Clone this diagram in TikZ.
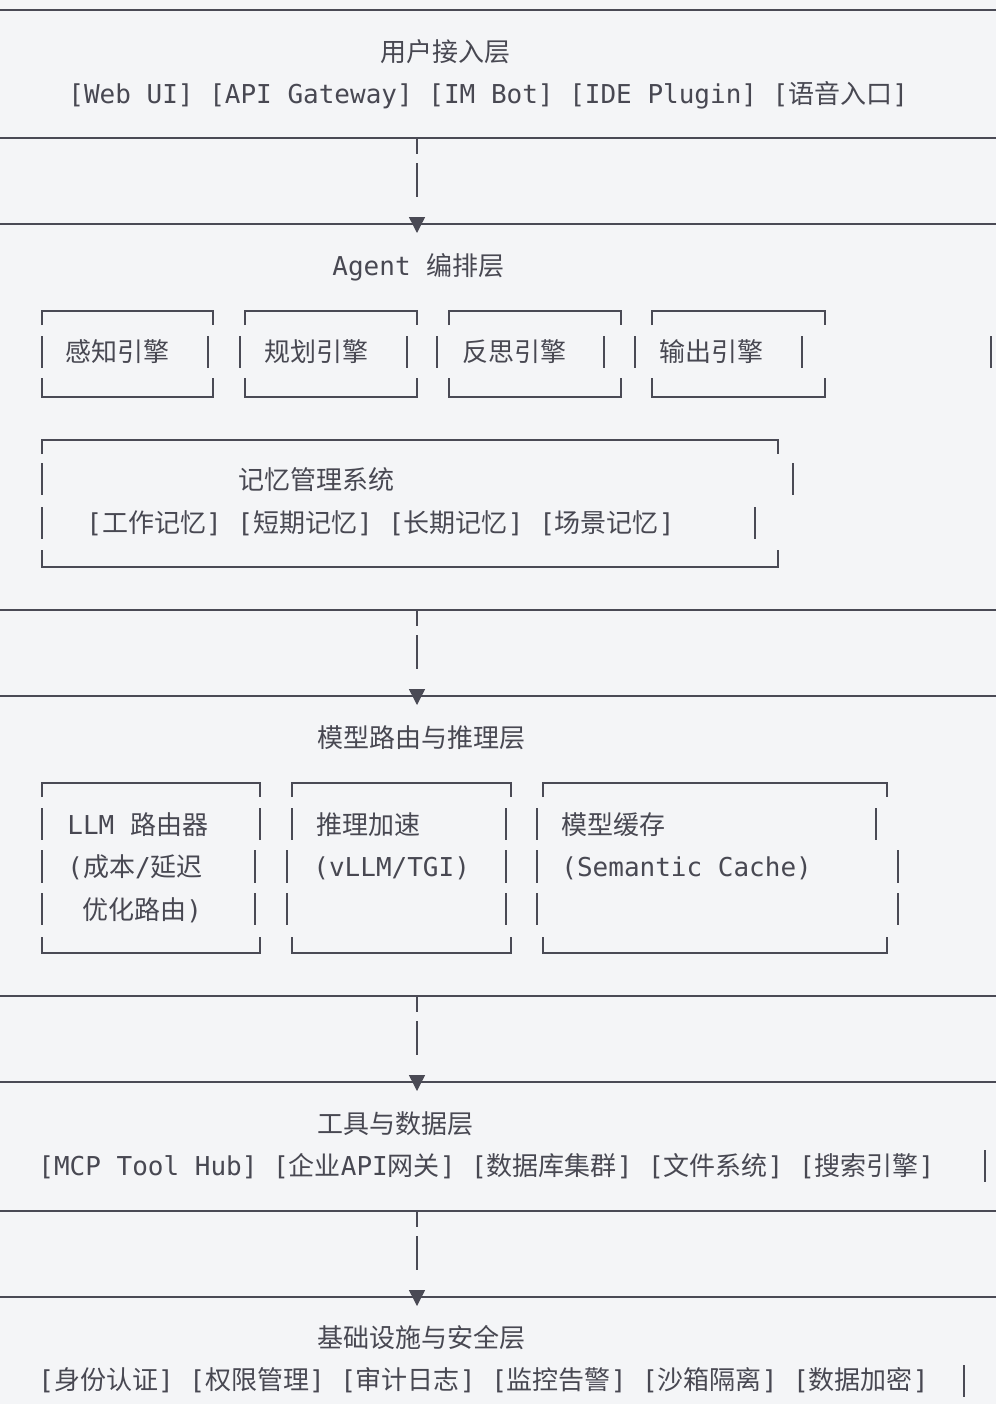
\documentclass[tikz,border=0pt]{standalone}
\usepackage{fontspec}
\setmonofont{DejaVu Sans Mono}
\newfontfamily\cjk[Scale=1.0]{Noto Sans CJK SC}
\newcommand\zh[1]{{\cjk #1}}
\usetikzlibrary{arrows.meta}
\definecolor{bgcol}{HTML}{F4F5F7}
\definecolor{inkcol}{HTML}{4A4A55}
\definecolor{txtcol}{HTML}{484852}

\begin{document}
\begin{tikzpicture}[x=0.5pt,y=-0.5pt]
	\tikzstyle{layer line}=[draw=inkcol,line width=0.9pt]
	\tikzstyle{box line}=[draw=inkcol,line width=0.8pt]
	\tikzset{
		label node/.style={anchor=base west,inner sep=0,yshift=-4.75pt,text=txtcol,
			font=\ttfamily\fontsize{13}{15}\selectfont},
		flow arrow/.style={draw=inkcol,line width=0.7pt,
			dash pattern=on 8pt off 4.5pt on 17pt off 30pt,
			-{Triangle[width=8pt,length=8pt]}}
	}
	\fill[bgcol] (0,0) rectangle (996,1404);
	\useasboundingbox (0,0) rectangle (996,1404);

	% layer borders
	\draw[layer line] (0,10) -- (996,10);
	\draw[layer line] (0,138) -- (996,138);
	\draw[layer line] (0,224) -- (996,224);
	\draw[layer line] (0,610) -- (996,610);
	\draw[layer line] (0,696) -- (996,696);
	\draw[layer line] (0,996) -- (996,996);
	\draw[layer line] (0,1082) -- (996,1082);
	\draw[layer line] (0,1211) -- (996,1211);
	\draw[layer line] (0,1297) -- (996,1297);

	% access layer
	\node(access)[label node] at (380,52) {\zh{用户接入层}};
	\node(entries)[label node] at (68,94) {[Web UI] [API Gateway] [IM Bot] [IDE Plugin] [\zh{语音入口}]};

	\coordinate(access out) at (417,138);
	\coordinate(agent in) at (417,233);
	\draw[flow arrow] (access out) -- (agent in);

	% agent layer
	\node(agent)[label node] at (332,266) {Agent \zh{编排层}};
	\draw[box line] (42,325) |- (213,311) -- (213,325);
	\draw[box line] (42,378) |- (213,397) -- (213,378);
	\draw[box line] (42,336) -- (42,368) (208,336) -- (208,368);
	\node(perceive)[label node] at (65,352) {\zh{感知引擎}};
	\draw[box line] (245,325) |- (417,311) -- (417,325);
	\draw[box line] (245,378) |- (417,397) -- (417,378);
	\draw[box line] (240,336) -- (240,368) (407,336) -- (407,368);
	\node(plan)[label node] at (264,352) {\zh{规划引擎}};
	\draw[box line] (449,325) |- (621,311) -- (621,325);
	\draw[box line] (449,378) |- (621,397) -- (621,378);
	\draw[box line] (437,336) -- (437,368) (604,336) -- (604,368);
	\node(reflect)[label node] at (462,352) {\zh{反思引擎}};
	\draw[box line] (652,325) |- (825,311) -- (825,325);
	\draw[box line] (652,378) |- (825,397) -- (825,378);
	\draw[box line] (635,336) -- (635,368) (802,336) -- (802,368);
	\node(output)[label node] at (659,352) {\zh{输出引擎}};
	\draw[box line] (991,336) -- (991,368);

	\draw[box line] (42,454) |- (778,440) -- (778,454);
	\draw[box line] (42,550) |- (778,567) -- (778,550);
	\draw[box line] (42,463) -- (42,495) (793,463) -- (793,495);
	\draw[box line] (42,507) -- (42,539) (755,507) -- (755,539);
	\node(memory)[label node] at (238,480) {\zh{记忆管理系统}};
	\node(memories)[label node] at (86,523) {[\zh{工作记忆}] [\zh{短期记忆}] [\zh{长期记忆}] [\zh{场景记忆}]};

	\coordinate(agent out) at (417,610);
	\coordinate(model in) at (417,705);
	\draw[flow arrow] (agent out) -- (model in);

	% model layer
	\node(model)[label node] at (317,738) {\zh{模型路由与推理层}};
	\draw[box line] (42,797) |- (260,783) -- (260,797);
	\draw[box line] (42,937) |- (260,953) -- (260,937);
	\draw[box line] (42,808) -- (42,840) (260,808) -- (260,840);
	\draw[box line] (42,850) -- (42,883) (255,850) -- (255,883);
	\draw[box line] (42,893) -- (42,925) (255,893) -- (255,925);
	\node(router)[label node] at (67,825) {LLM \zh{路由器}};
	\node(router a)[label node] at (67,867) {(\zh{成本}/\zh{延迟}};
	\node(router b)[label node] at (82,910) {\zh{优化路由})};
	\draw[box line] (292,797) |- (511,783) -- (511,797);
	\draw[box line] (292,937) |- (511,953) -- (511,937);
	\draw[box line] (292,808) -- (292,840) (506,808) -- (506,840);
	\draw[box line] (287,850) -- (287,883) (506,850) -- (506,883);
	\draw[box line] (287,893) -- (287,925) (506,893) -- (506,925);
	\node(speedup)[label node] at (316,825) {\zh{推理加速}};
	\node(speedup a)[label node] at (313,867) {(vLLM/TGI)};
	\draw[box line] (543,797) |- (887,783) -- (887,797);
	\draw[box line] (543,937) |- (887,953) -- (887,937);
	\draw[box line] (537,808) -- (537,840) (876,808) -- (876,840);
	\draw[box line] (537,850) -- (537,883) (898,850) -- (898,883);
	\draw[box line] (537,893) -- (537,925) (898,893) -- (898,925);
	\node(cache)[label node] at (561,825) {\zh{模型缓存}};
	\node(cache a)[label node] at (561,867) {(Semantic Cache)};

	\coordinate(model out) at (417,996);
	\coordinate(tool in) at (417,1091);
	\draw[flow arrow] (model out) -- (tool in);

	% tool layer
	\node(tool)[label node] at (317,1124) {\zh{工具与数据层}};
	\node(tools)[label node] at (38,1166) {[MCP Tool Hub] [\zh{企业}API\zh{网关}] [\zh{数据库集群}] [\zh{文件系统}] [\zh{搜索引擎}]};
	\draw[box line] (985,1150) -- (985,1182);

	\coordinate(tool out) at (417,1211);
	\coordinate(infra in) at (417,1306);
	\draw[flow arrow] (tool out) -- (infra in);

	% infrastructure layer
	\node(infra)[label node] at (317,1338) {\zh{基础设施与安全层}};
	\node(guards)[label node] at (38,1380) {[\zh{身份认证}] [\zh{权限管理}] [\zh{审计日志}] [\zh{监控告警}] [\zh{沙箱隔离}] [\zh{数据加密}]};
	\draw[box line] (964,1365) -- (964,1397);
\end{tikzpicture}
\end{document}
